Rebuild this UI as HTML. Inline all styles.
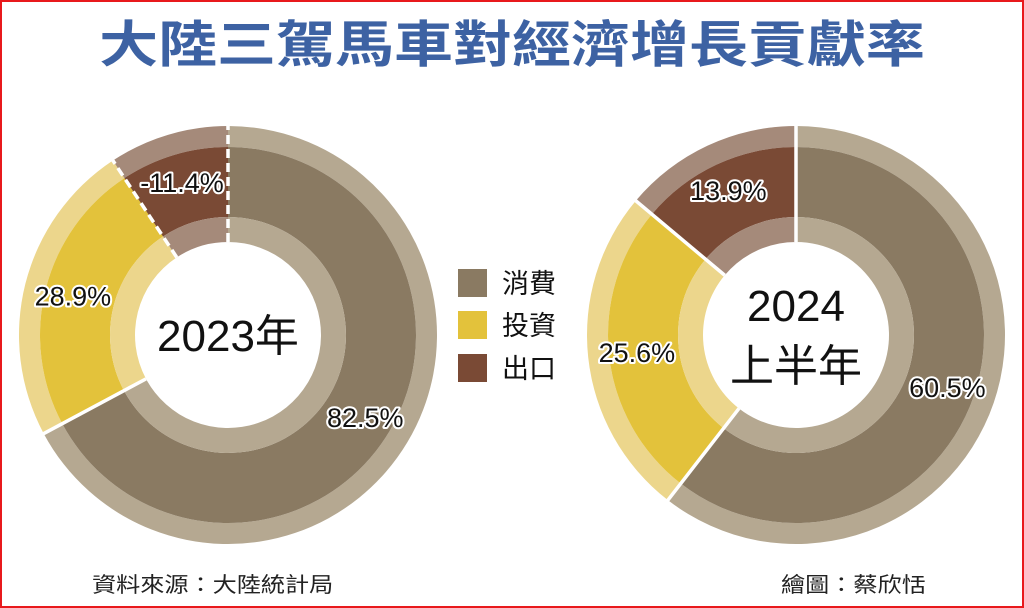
<!DOCTYPE html>
<html><head><meta charset="utf-8">
<style>
html,body{margin:0;padding:0;background:#fff;}
#wrap{position:relative;width:1024px;height:608px;overflow:hidden;background:#fff;}
#frame{position:absolute;left:0;top:0;width:1020px;height:604px;border:2px solid #e8191c;}
svg{position:absolute;left:0;top:0;}
.cjk{font-family:"Liberation Sans","Noto Sans CJK TC",sans-serif;}
</style></head>
<body>
<div id="wrap">
<svg id="chart" width="1024" height="608" viewBox="0 0 1024 608" class="cjk">
  <text x="512" y="62" text-anchor="middle" font-size="50" font-weight="bold" fill="#3d62a3" transform="translate(512,0) scale(1.18,1) translate(-512,0)">大陸三駕馬車對經濟增長貢獻率</text>
  <g>
    <rect x="458" y="269" width="29" height="28" fill="#8a7a62"/>
    <text x="502" y="293" font-size="27" fill="#111">消費</text>
    <rect x="458" y="311" width="29" height="28" fill="#e3c23b"/>
    <text x="502" y="335" font-size="27" fill="#111">投資</text>
    <rect x="458" y="354" width="29" height="28" fill="#7a4a35"/>
    <text x="502" y="378" font-size="27" fill="#111">出口</text>
  </g>
  <text x="92" y="592" font-size="21" fill="#222" transform="translate(92,0) scale(1.15,1) translate(-92,0)">資料來源：大陸統計局</text>
  <text x="781" y="592" font-size="21" fill="#222" transform="translate(781,0) scale(1.15,1) translate(-781,0)">繪圖：蔡欣恬</text>
</svg>
<div id="frame"></div>
</div>
<script>
const categories = ["消費", "投資", "出口"];
const values2023 = [82.5, 28.9, -11.4];
const values2024 = [60.5, 25.6, 13.9];
const labels2023 = ["82.5%", "28.9%", "-11.4%"];
const labels2024 = ["60.5%", "25.6%", "13.9%"];
const keys = ["consumption", "investment", "export"];

const darkCol = ["#8a7a62", "#e3c23b", "#7a4a35"];
const lightCol = ["#b5a891", "#ecd68c", "#a58a7a"];
const NS = "http://www.w3.org/2000/svg";
const svg = document.getElementById("chart");
const R = 209, R2 = 188, R3 = 118, R4 = 93, RL = 160;

function pt(cx, cy, r, a) { return [cx + r * Math.sin(a), cy - r * Math.cos(a)]; }
function arc(cx, cy, ro, ri, a0, a1) {
  const large = (a1 - a0) > Math.PI ? 1 : 0;
  const p0 = pt(cx, cy, ro, a0), p1 = pt(cx, cy, ro, a1), p2 = pt(cx, cy, ri, a1), p3 = pt(cx, cy, ri, a0);
  return `M${p0[0]},${p0[1]} A${ro},${ro} 0 ${large} 1 ${p1[0]},${p1[1]} L${p2[0]},${p2[1]} A${ri},${ri} 0 ${large} 0 ${p3[0]},${p3[1]} Z`;
}
function drawDonut(cx, cy, vals, labs, name, dashed) {
  const g = document.createElementNS(NS, "g");
  
  
  svg.appendChild(g);
  const total = vals.reduce((s, v) => s + Math.abs(v), 0);
  let a = 0;
  const bounds = [];
  vals.forEach((v, i) => {
    const a1 = a + Math.abs(v) / total * Math.PI * 2;
    const bands = [[R, R2, lightCol[i]], [R2, R3, darkCol[i]], [R3, R4, lightCol[i]]];
    bands.forEach((b, j) => {
      const p = document.createElementNS(NS, "path");
      p.setAttribute("d", arc(cx, cy, b[0], b[1], a, a1));
      p.setAttribute("fill", b[2]);
      
      
      g.appendChild(p);
    });
    bounds.push([a, v < 0 || (i > 0 && vals[i - 1] < 0)]);
    const mid = (a + a1) / 2, lp = pt(cx, cy, RL, mid);
    const t = document.createElementNS(NS, "text");
    t.setAttribute("x", lp[0]); t.setAttribute("y", lp[1] + 10);
    t.setAttribute("text-anchor", "middle");
    t.setAttribute("font-size", "27");
    t.setAttribute("fill", "#111");
    t.setAttribute("stroke", "#fff");
    t.setAttribute("stroke-width", "4");
    t.setAttribute("paint-order", "stroke");
    t.setAttribute("stroke-linejoin", "round");
    t.textContent = labs[i];
    
    
    g.appendChild(t);
    a = a1;
  });
  // boundaries: a boundary is dashed if adjacent to a negative slice
  vals.forEach((v, i) => {
    const prev = vals[(i - 1 + vals.length) % vals.length];
    const isDash = dashed && (v < 0 || prev < 0);
    const ba = bounds[i][0];
    const p0 = pt(cx, cy, R4, ba), p1 = pt(cx, cy, R + 1, ba);
    const l = document.createElementNS(NS, "line");
    l.setAttribute("x1", p0[0]); l.setAttribute("y1", p0[1]);
    l.setAttribute("x2", p1[0]); l.setAttribute("y2", p1[1]);
    l.setAttribute("stroke", "#fff");
    l.setAttribute("stroke-width", "3.5");
    if (isDash) l.setAttribute("stroke-dasharray", "9 5");
    
    
    g.appendChild(l);
  });
  // keep labels on top
  g.querySelectorAll("text").forEach(t => g.appendChild(t));
  return g;
}
drawDonut(228, 335, values2023, labels2023, "donut-2023", true);
drawDonut(796, 335, values2024, labels2024, "donut-2024-h1", true);

function centerText(x, y, s, name) {
  const t = document.createElementNS(NS, "text");
  t.setAttribute("x", x); t.setAttribute("y", y);
  t.setAttribute("text-anchor", "middle");
  t.setAttribute("font-size", "44");
  t.setAttribute("fill", "#111");
  t.textContent = s;
  
  
  svg.appendChild(t);
}
centerText(228, 351, "2023年", "center-label-2023");
centerText(796, 321, "2024", "center-label-2024");
centerText(796, 381, "上半年", "center-label-h1");
</script>
</body></html>
